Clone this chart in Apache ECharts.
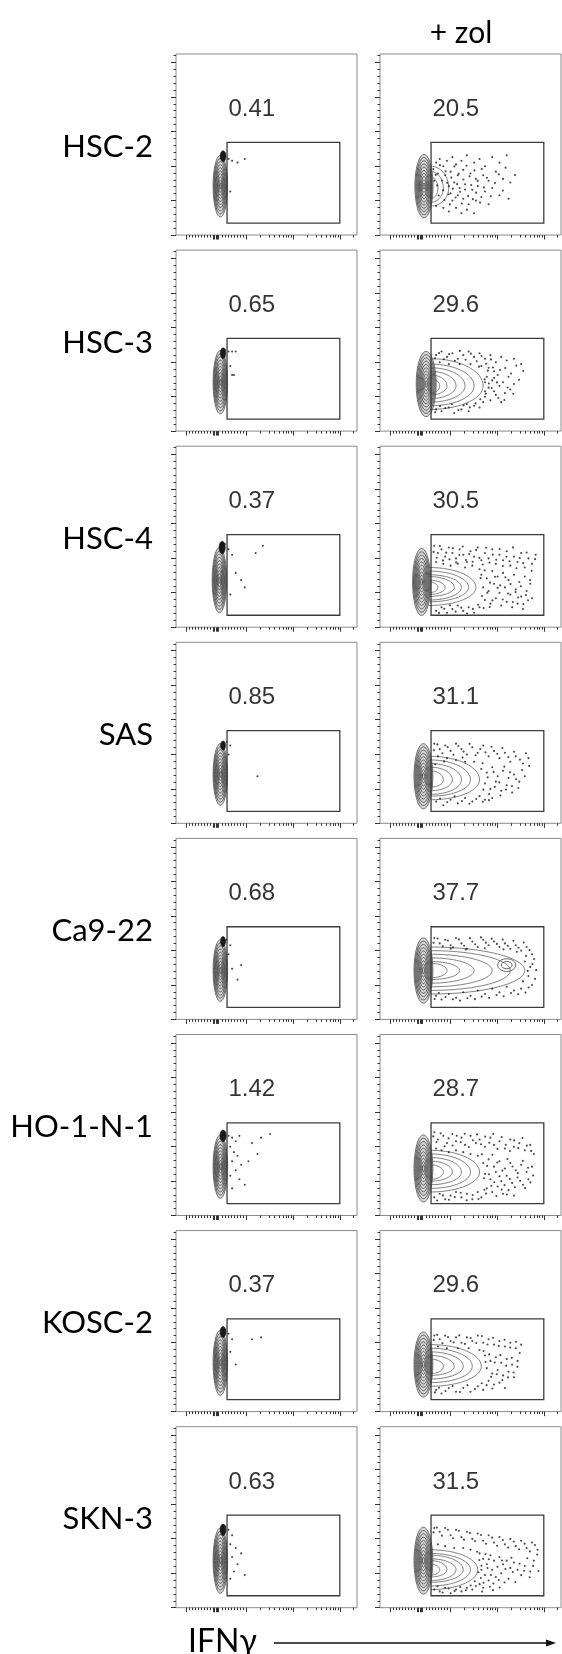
<!DOCTYPE html>
<html>
<head>
<meta charset="utf-8">
<script src="https://cdn.jsdelivr.net/npm/echarts@6/dist/echarts.min.js"></script>
<style>
  html, body { margin: 0; padding: 0; background: #fff; }
  #chart { width: 562px; height: 1654px; }
</style>
</head>
<body>
<div id="chart"></div>
<script>
// rows of the figure, top to bottom
const cellLines = ['HSC-2', 'HSC-3', 'HSC-4', 'SAS', 'Ca9-22', 'HO-1-N-1', 'KOSC-2', 'SKN-3']
const pctControl = ['0.41', '0.65', '0.37', '0.85', '0.68', '1.42', '0.37', '0.63']
const pctZol = ['20.5', '29.6', '30.5', '31.1', '37.7', '28.7', '29.6', '31.5']

// panel units: x = IFNγ display scale 0..100, y = 0..100 of the 262144 linear scale
const xMajorTicks = [5.6, 20.6, 21.3, 22, 22.7, 23.4, 39, 65, 90.5]
const xMinorTicks = [7.2, 8.9, 10.5, 12.2, 13.8, 15.4, 17.1, 18.7, 25.4, 27.1, 28.8, 30.5, 32.2, 33.9, 35.6, 37.3,
  46.7, 51.3, 54.5, 57, 59, 60.7, 62.2, 63.5, 72.7, 77.3, 80.5, 83, 85, 86.7, 88.2, 89.5, 98.2]
const yMajorTicks = [0, 19.07, 38.15, 57.22, 76.29, 95.37]
const yMinorTicks = [3.81, 7.63, 11.44, 15.26, 22.89, 26.7, 30.52, 34.33, 41.96, 45.78, 49.59, 53.41,
  61.04, 64.85, 68.66, 72.48, 80.11, 83.92, 87.74, 91.55, 99.18]

// IFNγ+ gate: x0, y0, x1, y1
const gate = [28.2, 6.6, 90.5, 51.2]
const labelPos = [29, 69.5]

// main population: cx, cy, rx, ry (outer contour)
const blobControl = [[24.5, 27, 4, 17], [24.5, 27, 4, 17.5], [24, 26, 4, 18], [24.5, 27, 4, 17],
  [24.5, 27, 4, 17], [24.5, 27, 4, 17.5], [24.5, 27, 4, 18], [24.5, 26, 4, 18]]
const blobZol = [[24.3, 27, 5, 17.5], [25.5, 26, 5.5, 18], [23, 25, 5, 18.5], [24, 26, 5.2, 18],
  [24, 27, 5.2, 18], [24, 26, 5.2, 18.5], [24, 26, 5.2, 18], [24, 26, 5.2, 18.5]]
const contourLevels = [1, 0.9, 0.8, 0.7, 0.6, 0.5, 0.4, 0.3, 0.2, 0.1]
// dense clump on top of the control populations: cx, cy, rx, ry
const clumpControl = [[26, 43.5, 1.6, 3], [26, 43, 1.5, 3], [25.5, 44, 1.7, 3.5], [26, 43, 1.4, 2.5],
  [26, 43, 1.4, 2.8], [26, 44, 1.7, 3.2], [26, 44, 1.6, 3], [26, 43, 1.6, 3.2]]

// IFNγ+ lobes of the zol panels: origin x, centre y, then [reach x, up, down] per contour
const lobeOrigin = [[28, 26], [28, 25], [27, 22], [28, 24], [28, 27], [28, 24], [28, 25], [28, 21]]
const lobesHSC2 = [[38, 12, 10], [35, 9, 8], [32, 6, 6]]
const lobesHSC3 = [[57, 15, 13], [52, 12, 11], [47, 10, 9], [42, 8, 7], [37, 6, 5], [33, 4, 4]]
const lobesHSC4 = [[53, 11, 10], [49, 9, 8], [45, 7, 7], [41, 6, 5], [36, 4, 4], [32, 3, 3]]
const lobesSAS = [[55, 13, 11], [50, 11, 9], [45, 9, 8], [40, 7, 6], [35, 5, 4]]
const lobesCa922 = [[80, 13, 13], [72, 11, 11], [62, 9, 9], [52, 7, 7], [44, 5, 5], [37, 4, 4]]
const lobesHO1N1 = [[55, 12, 11], [50, 10, 9], [45, 8, 7], [40, 6, 5], [35, 4, 4]]
const lobesKOSC2 = [[56, 12, 11], [51, 10, 9], [46, 8, 7], [41, 6, 5], [35, 4, 4]]
const lobesSKN3 = [[54, 11, 11], [50, 9, 9], [46, 8, 7], [42, 6, 6], [37, 5, 4], [33, 3, 3]]
const islandCa922 = [[70, 30, 5, 3.5], [70, 30, 3, 2]]

// outlier events outside the contours
const dotsCtlHSC2 = [[27, 44], [29, 42], [31, 41], [34, 40], [38, 42], [30, 24]]
const dotsCtlHSC3 = [[27, 45], [29, 44], [31, 44], [33, 44], [30, 36], [31, 31], [32, 31]]
const dotsCtlHSC4 = [[27, 46], [29, 43], [31, 40], [33, 30], [36, 26], [38, 22], [44, 41], [48, 45], [30, 18]]
const dotsCtlSAS = [[28, 45], [30, 43], [29, 38], [45, 26]]
const dotsCtlCa922 = [[28, 44], [30, 41], [29, 36], [31, 28], [34, 22], [36, 30]]
const dotsCtlHO1N1 = [[27, 46], [29, 44], [31, 43], [33, 41], [35, 44], [30, 38], [32, 35], [34, 33], [31, 30],
  [36, 28], [33, 25], [30, 22], [35, 20], [38, 17], [31, 15], [42, 40], [47, 43], [52, 45], [40, 30], [45, 34]]
const dotsCtlKOSC2 = [[27, 45], [29, 43], [31, 40], [30, 33], [42, 40], [47, 41], [33, 26]]
const dotsCtlSKN3 = [[27, 45], [29, 43], [31, 40], [30, 35], [33, 33], [31, 28], [36, 30], [34, 24], [32, 20],
  [38, 18], [30, 16]]

const dotsZolHSC2 = [[31, 40], [33, 42], [35, 38], [37, 41], [40, 43], [42, 39], [45, 41], [48, 44], [52, 40],
  [55, 42], [58, 38], [62, 43], [66, 40], [70, 44], [32, 34], [36, 33], [39, 35], [43, 33], [46, 36], [50, 34],
  [53, 31], [57, 33], [60, 30], [64, 35], [68, 31], [72, 29], [38, 27], [41, 29], [44, 26], [47, 28], [51, 25],
  [54, 27], [58, 24], [62, 26], [66, 22], [71, 20], [40, 19], [43, 22], [46, 20], [49, 17], [53, 19], [56, 21],
  [60, 17], [31, 16], [35, 15], [38, 13], [42, 15], [45, 12], [48, 14], [52, 12], [30, 30], [39, 23],
  [29.5, 36.5], [30.8, 33.2], [31.6, 27.4], [32.4, 21.8], [33.1, 38.6], [34.2, 30.1], [34.9, 24.7], [35.6, 19.3],
  [36.3, 35.2], [37.1, 28.8], [37.9, 22.5], [38.6, 16.9], [39.4, 31.7], [40.2, 25.6], [41.1, 37.9], [41.8, 20.7],
  [42.6, 28.1], [43.5, 33.8], [44.3, 23.9], [45.2, 17.4], [46.1, 30.7], [47, 25.1], [47.8, 38.3], [48.7, 21.6],
  [49.5, 32.4], [50.4, 27.6], [51.3, 19.8], [52.2, 35.7], [53.1, 23.4], [54, 29.9], [55.3, 17.9], [56.2, 36.4],
  [57.4, 26.3], [59.1, 31.6], [61.2, 21.4], [63.5, 28.7], [65.7, 33.5], [67.9, 24.6], [69.4, 37.2], [74.6, 33.1]]
const dotsZolHSC3 = [[31, 42], [34, 44], [37, 41], [40, 43], [43, 40], [46, 42], [49, 44], [52, 41], [55, 43],
  [58, 40], [61, 42], [64, 38], [67, 41], [70, 39], [74, 40], [78, 37], [33, 38], [38, 37], [44, 37], [50, 37],
  [56, 36], [60, 35], [63, 33], [59, 30], [62, 28], [65, 31], [68, 27], [71, 30], [74, 26], [60, 24], [63, 22],
  [66, 25], [69, 21], [72, 23], [58, 19], [61, 17], [64, 20], [67, 16], [31, 12], [34, 11], [38, 13], [41, 10],
  [45, 12], [49, 11], [52, 14], [55, 13], [57, 16], [48, 15], [58, 27], [58, 22],
  [30.4, 40.2], [32.6, 43.1], [35.3, 39.7], [38.2, 42.6], [41.4, 38.9], [44.1, 44.3], [47.3, 39.4], [50.2, 42.8],
  [53.4, 38.6], [56.1, 41.5], [58.7, 37.2], [61.3, 39.6], [59.6, 33.4], [62.4, 35.1], [57.8, 28.6], [60.2, 26.3],
  [63.1, 29.4], [58.4, 20.7], [61.7, 23.8], [64.6, 26.9], [66.3, 33.7], [69.2, 34.9], [72.4, 31.8], [75.3, 36.2],
  [70.5, 24.1], [73.6, 20.6], [55.4, 17.6], [52.8, 15.3], [49.6, 13.1], [46.2, 14.2], [43.3, 11.6], [39.7, 14.8],
  [36.1, 12.7], [33.2, 13.9], [30.5, 10.4], [65.4, 18.3], [68.7, 17.2], [76.8, 28.4], [79.1, 33.2], [54.7, 35.6]]
const dotsZolHSC4 = [[30, 45], [32, 41], [34, 43], [36, 39], [38, 44], [40, 41], [42, 38], [44, 43], [46, 40],
  [48, 36], [50, 42], [52, 39], [54, 44], [56, 37], [58, 41], [60, 38], [62, 43], [64, 35], [66, 40], [68, 37],
  [70, 42], [72, 34], [74, 39], [76, 36], [78, 41], [80, 33], [82, 38], [84, 35], [86, 40], [31, 36], [35, 35],
  [39, 34], [43, 35], [47, 33], [51, 34], [55, 32], [56, 29], [59, 27], [62, 31], [65, 28], [68, 30], [71, 26],
  [74, 29], [77, 25], [80, 28], [83, 24], [57, 22], [60, 20], [63, 24], [66, 19], [69, 22], [72, 18], [75, 21],
  [78, 17], [81, 20], [84, 16], [58, 15], [61, 13], [64, 16], [67, 12], [70, 14], [73, 11], [76, 13], [79, 10],
  [31, 9], [34, 11], [37, 8], [40, 10], [43, 12], [46, 9], [49, 11], [52, 8], [55, 11],
  [29.6, 41.6], [31.3, 38.4], [33.1, 44.8], [34.8, 36.9], [36.6, 41.2], [38.4, 37.5], [40.3, 43.6], [42.1, 35.8],
  [43.8, 39.9], [45.7, 44.6], [47.5, 37.1], [49.3, 40.4], [51.2, 36.2], [53.1, 42.7], [54.9, 38.3], [56.8, 34.6],
  [58.6, 43.9], [60.5, 35.7], [62.3, 40.1], [64.2, 37.3], [66.1, 43.2], [67.9, 33.8], [69.8, 38.9], [71.6, 36.4],
  [73.5, 44.1], [75.4, 32.6], [77.2, 38.2], [79.1, 35.4], [81, 41.3], [83.8, 31.2], [85.7, 37.6], [55.6, 27.1],
  [57.9, 31.4], [60.8, 24.6], [63.6, 27.9], [66.4, 23.1], [69.3, 27.6], [72.1, 23.8], [74.9, 19.4], [77.8, 22.6],
  [80.6, 17.8], [82.9, 26.1], [56.4, 17.2], [59.3, 19.1], [62.1, 14.8], [65, 21.7], [67.8, 15.3], [70.7, 18.6],
  [73.4, 13.9], [76.3, 16.4], [79.2, 12.8], [81.8, 14.9], [32.6, 7.9], [35.5, 10.2], [38.7, 12.1], [41.8, 8.6],
  [44.9, 10.8], [48.1, 7.6], [51.3, 10.1], [54.2, 12.4], [57.3, 10.6], [60.6, 11.2]]
const dotsZolSAS = [[30, 44], [33, 41], [36, 43], [39, 40], [42, 44], [45, 41], [48, 38], [51, 42], [54, 39],
  [57, 43], [60, 37], [63, 40], [66, 36], [69, 39], [72, 34], [75, 37], [79, 33], [82, 36], [32, 37], [37, 36],
  [42, 35], [47, 34], [52, 34], [56, 30], [59, 28], [62, 31], [65, 26], [68, 29], [71, 25], [74, 27], [77, 23],
  [80, 26], [58, 22], [61, 19], [64, 23], [67, 18], [70, 21], [73, 17], [31, 12], [35, 10], [39, 13], [43, 11],
  [47, 14], [51, 12], [55, 15], [58, 13], [62, 14],
  [29.8, 40.4], [31.7, 43.6], [34.5, 38.7], [37.4, 42.1], [40.6, 37.9], [43.3, 42.7], [46.2, 39.6], [49.5, 43.9],
  [52.8, 37.6], [55.4, 41.1], [58.3, 39.2], [61.6, 42.3], [64.8, 38.4], [67.6, 41.6], [70.9, 36.6], [74.1, 39.5],
  [77.3, 35.2], [80.6, 38.7], [56.7, 33.2], [59.5, 25.4], [62.8, 28.4], [65.9, 22.6], [68.7, 31.3], [71.8, 28.2],
  [75.2, 24.3], [78.5, 29.4], [57.1, 18.6], [60.3, 16.2], [63.4, 20.1], [66.5, 15.4], [69.6, 18.7], [72.9, 20.6],
  [76.4, 19.5], [33.2, 13.7], [37.1, 11.6], [41.2, 14.9], [45.3, 12.3], [49.4, 10.8], [53.2, 13.4], [56.8, 11.9],
  [60.2, 12.8], [30.5, 32.6], [35.4, 34.2], [45.6, 36.3], [82.4, 31.7]]
const dotsZolCa922 = [[30, 45], [33, 42], [36, 44], [39, 41], [42, 45], [45, 42], [48, 39], [51, 43], [54, 40],
  [57, 44], [60, 41], [63, 43], [66, 40], [69, 42], [72, 39], [75, 41], [78, 38], [81, 40], [84, 36], [80, 32],
  [83, 29], [82, 24], [79, 21], [84, 19], [31, 13], [34, 11], [38, 14], [42, 12], [46, 15], [50, 13], [54, 16],
  [58, 14], [62, 17], [66, 15], [70, 18], [74, 16], [78, 17],
  [29.6, 42.3], [31.8, 44.7], [34.7, 40.4], [37.5, 43.6], [40.4, 39.8], [43.6, 44.2], [46.5, 40.7], [49.7, 44.9],
  [52.6, 41.5], [55.8, 45.3], [58.5, 42.4], [61.7, 44.6], [64.6, 41.7], [67.8, 44.1], [70.6, 40.6], [73.7, 43.4],
  [76.5, 39.6], [79.4, 42.5], [82.6, 38.3], [85.1, 33.4], [84.2, 30.6], [86.3, 27.2], [81.6, 26.8], [85.7, 22.4],
  [82.1, 17.6], [80.4, 14.8], [76.3, 13.9], [72.4, 14.6], [68.3, 12.8], [64.4, 13.5], [60.3, 11.9], [56.2, 12.6],
  [52.4, 11.2], [48.3, 11.7], [44.2, 10.4], [40.3, 11.1], [36.2, 12.4], [32.5, 14.6], [30.2, 11.3], [39.1, 39.1],
  [47.4, 38.6], [57.9, 39.3], [68.2, 38.7], [75.6, 37.4], [80.7, 35.1]]
const dotsZolHO1N1 = [[30, 46], [32, 42], [35, 44], [37, 40], [40, 45], [42, 41], [45, 43], [47, 39], [50, 44],
  [53, 40], [55, 42], [58, 38], [61, 43], [63, 39], [66, 41], [69, 37], [72, 42], [74, 38], [77, 40], [80, 36],
  [83, 39], [85, 34], [31, 37], [34, 36], [38, 35], [42, 36], [46, 35], [50, 34], [54, 33], [57, 29], [60, 31],
  [63, 27], [66, 30], [69, 26], [72, 29], [75, 25], [78, 28], [81, 24], [84, 27], [58, 23], [61, 20], [64, 24],
  [67, 19], [70, 22], [73, 18], [76, 21], [79, 17], [82, 20], [59, 15], [62, 13], [65, 16], [68, 12], [71, 14],
  [74, 11], [30, 10], [33, 12], [36, 9], [39, 11], [42, 13], [45, 10], [48, 12], [51, 9], [54, 13], [56, 10],
  [29.4, 43.7], [31.2, 40.6], [33.5, 45.4], [35.7, 38.2], [37.9, 42.6], [40.1, 38.7], [42.4, 44.1], [44.6, 40.5],
  [46.8, 45.2], [49.1, 37.8], [51.3, 41.6], [53.6, 44.8], [55.8, 39.4], [58.1, 43.6], [60.4, 40.2], [62.6, 45.1],
  [64.9, 36.8], [67.2, 43.4], [69.5, 39.1], [71.8, 35.6], [74.1, 41.5], [76.4, 37.2], [78.7, 42.8], [81.1, 38.6],
  [83.5, 35.7], [56.3, 33.8], [59.2, 27.4], [62.1, 33.6], [64.8, 29.3], [67.6, 24.8], [70.4, 31.2], [73.2, 27.1],
  [76.1, 23.4], [78.9, 30.2], [81.8, 26.4], [84.6, 22.1], [57.4, 20.6], [60.2, 22.8], [63.1, 18.4], [66, 21.6],
  [68.8, 16.8], [71.7, 20.1], [74.5, 15.6], [77.4, 19.2], [80.2, 15.1], [83.1, 18.3], [58.6, 12.1], [61.5, 16.4],
  [64.3, 10.8], [67.2, 14.3], [70.1, 11.6], [31.6, 8.3], [34.8, 11.1], [38.1, 8.7], [41.3, 10.2], [44.6, 12.6],
  [47.9, 8.4], [51.2, 11.3], [54.4, 9.1], [57.7, 14.2]]
const dotsZolKOSC2 = [[30, 42], [33, 40], [36, 42], [39, 39], [42, 41], [45, 38], [48, 41], [51, 39], [54, 42],
  [57, 38], [60, 40], [63, 37], [66, 39], [69, 36], [72, 38], [75, 35], [78, 37], [32, 36], [37, 35], [43, 35],
  [49, 35], [55, 34], [58, 31], [61, 28], [64, 30], [67, 27], [70, 29], [73, 26], [76, 28], [59, 24], [62, 21],
  [65, 23], [68, 20], [71, 22], [74, 19], [60, 17], [63, 15], [66, 16], [69, 13], [31, 12], [34, 10], [38, 13],
  [42, 11], [46, 13], [50, 11], [54, 14], [57, 12],
  [29.7, 39.6], [31.6, 42.4], [34.5, 37.8], [37.6, 41.2], [40.7, 38.3], [43.8, 42.1], [46.9, 37.4], [50.1, 40.6],
  [53.2, 37.9], [56.3, 41.7], [59.4, 37.1], [62.5, 40.8], [65.6, 36.3], [68.8, 39.7], [71.9, 35.4], [75.1, 38.6],
  [57.2, 33.5], [60.3, 31.6], [63.4, 27.1], [66.5, 31.2], [69.7, 25.4], [72.8, 29.7], [75.9, 24.8], [58.3, 27.4],
  [61.4, 19.2], [64.5, 20.6], [67.6, 17.4], [70.7, 18.9], [73.8, 21.6], [58.9, 14.6], [62.1, 12.8], [56.2, 15.7],
  [52.4, 12.4], [48.3, 14.6], [44.2, 10.8], [40.1, 14.1], [36.2, 11.4], [32.6, 13.2], [30.4, 10.6], [77.2, 32.4]]
const dotsZolSKN3 = [[30, 44], [33, 42], [36, 44], [39, 40], [42, 43], [45, 39], [48, 42], [51, 38], [54, 41],
  [57, 37], [60, 40], [63, 36], [66, 39], [69, 35], [72, 38], [75, 34], [78, 37], [81, 33], [84, 36], [87, 32],
  [32, 35], [36, 34], [41, 33], [46, 33], [50, 32], [55, 30], [57, 27], [59, 24], [56, 21], [58, 18], [60, 15],
  [61, 29], [63, 26], [62, 21], [64, 17], [66, 28], [68, 24], [67, 19], [70, 26], [72, 22], [71, 16], [74, 25],
  [76, 21], [78, 18], [80, 23], [83, 20], [85, 26], [55, 13], [57, 11], [30, 10], [33, 9], [36, 11], [39, 8],
  [42, 10], [45, 9], [48, 11], [51, 10], [53, 12],
  [29.6, 41.6], [31.4, 44.3], [34.2, 39.8], [37.5, 43.1], [40.3, 38.4], [43.6, 42.5], [46.4, 37.6], [49.7, 41.3],
  [52.5, 36.8], [55.8, 40.2], [58.6, 35.3], [61.9, 38.7], [64.7, 34.2], [67.9, 37.4], [70.8, 33.2], [73.9, 36.6],
  [76.8, 32.3], [79.9, 35.4], [82.8, 31.1], [85.6, 34.6], [53.6, 30.9], [54.9, 26.3], [56.1, 23.2], [54.4, 19.6],
  [55.7, 16.4], [57.2, 13.8], [58.3, 29.6], [60.1, 26.8], [59.4, 21.9], [61.3, 18.1], [62.6, 13.4], [60.7, 11.6],
  [64.9, 22.6], [65.6, 15.3], [67.4, 26.1], [69.3, 21.4], [68.8, 13.9], [72.6, 27.6], [73.4, 19.7], [74.8, 14.2],
  [77.1, 24.3], [79.6, 20.4], [81.4, 27.3], [82.7, 16.8], [84.6, 23.1], [86.8, 29.4], [87.5, 20.3], [52.3, 14.6],
  [50.1, 12.3], [47.4, 9.6], [44.3, 11.4], [41.2, 9.2], [37.9, 10.6], [34.6, 8.4], [31.7, 11.8], [56.4, 8.9],
  [62.4, 9.7], [66.1, 11.2]]

const dotsControl = [dotsCtlHSC2, dotsCtlHSC3, dotsCtlHSC4, dotsCtlSAS, dotsCtlCa922, dotsCtlHO1N1, dotsCtlKOSC2, dotsCtlSKN3]
const dotsZol = [dotsZolHSC2, dotsZolHSC3, dotsZolHSC4, dotsZolSAS, dotsZolCa922, dotsZolHO1N1, dotsZolKOSC2, dotsZolSKN3]
const lobesZol = [lobesHSC2, lobesHSC3, lobesHSC4, lobesSAS, lobesCa922, lobesHO1N1, lobesKOSC2, lobesSKN3]

// layout
const rowTop = 54
const rowStep = 196.1
const colLeft = [176, 380]
const frameSize = 181
const numFont = '"Liberation Sans", Arial, sans-serif'
const textFont = 'Lato, "Open Sans", sans-serif'

function renderEllipse(params, api) {
  const c = api.coord([api.value(0), api.value(1)])
  const s = api.size([api.value(2), api.value(3)])
  const kind = api.value(4)
  let style = { fill: 'none', stroke: '#3f3f3f', lineWidth: 0.8 }
  if (kind === 1) style = { fill: '#1a1a1a', stroke: '#1a1a1a', lineWidth: 0.6 }
  if (kind === 2) style = { fill: 'rgba(110,110,110,0.28)', stroke: '#4a4a4a', lineWidth: 0.8 }
  return {
    type: 'ellipse',
    shape: { cx: c[0], cy: c[1], rx: s[0], ry: s[1] },
    style
  }
}

// half contour opening to the left, bulging into the gate
function renderLobe(params, api) {
  const x0 = api.value(0), cy = api.value(1), reach = api.value(2)
  const up = api.value(3), down = api.value(4)
  const pts = []
  for (let a = -90; a <= 90; a += 6) {
    const t = a * Math.PI / 180
    const ry = a > 0 ? up : down
    pts.push(api.coord([x0 + (reach - x0) * Math.cos(t), cy + ry * Math.sin(t)]))
  }
  return {
    type: 'polyline',
    shape: { points: pts },
    style: { fill: 'none', stroke: '#5a5a5a', lineWidth: 0.75 }
  }
}

function renderGate(params, api) {
  const a = api.coord([api.value(0), api.value(3)])
  const b = api.coord([api.value(2), api.value(1)])
  return {
    type: 'rect',
    shape: { x: a[0], y: a[1], width: b[0] - a[0], height: b[1] - a[1] },
    style: { fill: 'none', stroke: '#3c3c3c', lineWidth: 1.3 }
  }
}

function blobData(blob, clump) {
  const out = contourLevels.map((f, i) => [blob[0], blob[1], blob[2] * f, blob[3] * f, i === 0 ? 2 : 0])
  if (clump) out.push([clump[0], clump[1], clump[2], clump[3], 1])
  return out
}

const grid = []
const xAxis = []
const yAxis = []
const series = []

function tickAxis(g, dir, values, len) {
  return {
    gridIndex: g,
    type: 'value',
    min: 0,
    max: 100,
    position: dir === 'x' ? 'bottom' : 'left',
    offset: 0,
    axisLine: { show: false },
    splitLine: { show: false },
    axisLabel: { show: false },
    axisTick: {
      show: true,
      inside: false,
      length: len,
      customValues: values,
      lineStyle: { color: '#333', width: 1 }
    }
  }
}

cellLines.forEach((name, r) => {
  for (let c = 0; c < 2; c++) {
    const g = grid.length
    grid.push({
      left: colLeft[c],
      top: rowTop + r * rowStep,
      width: frameSize,
      height: frameSize,
      show: true,
      borderColor: '#8a8a8a',
      borderWidth: 1
    })
    xAxis.push(tickAxis(g, 'x', xMajorTicks, 4.5))
    xAxis.push(tickAxis(g, 'x', xMinorTicks, 2.5))
    yAxis.push(tickAxis(g, 'y', yMajorTicks, 5))
    yAxis.push(tickAxis(g, 'y', yMinorTicks, 2.5))
    const ax = { xAxisIndex: 2 * g, yAxisIndex: 2 * g }
    const isZol = c === 1

    series.push({
      type: 'custom', ...ax, silent: true, z: 2,
      renderItem: renderEllipse,
      data: isZol ? blobData(blobZol[r]) : blobData(blobControl[r], clumpControl[r])
    })
    if (isZol) {
      const o = lobeOrigin[r]
      series.push({
        type: 'custom', ...ax, silent: true, z: 2,
        renderItem: renderLobe,
        data: lobesZol[r].map(l => [o[0], o[1], l[0], l[1], l[2]])
      })
      if (r === 4) {
        series.push({
          type: 'custom', ...ax, silent: true, z: 2,
          renderItem: renderEllipse,
          data: islandCa922.map(e => e.concat([0]))
        })
      }
    }
    series.push({
      type: 'scatter', ...ax, silent: true, z: 3,
      symbol: 'circle', symbolSize: 2.1,
      itemStyle: { color: '#1c1c1c' },
      data: isZol ? dotsZol[r] : dotsControl[r]
    })
    series.push({
      type: 'custom', ...ax, silent: true, z: 4,
      renderItem: renderGate,
      data: [gate]
    })
    series.push({
      type: 'scatter', ...ax, silent: true, z: 5,
      symbolSize: 0,
      data: [[labelPos[0], labelPos[1], isZol ? pctZol[r] : pctControl[r]]],
      label: {
        show: true,
        position: 'right',
        distance: 0,
        formatter: p => p.value[2],
        fontFamily: numFont,
        fontSize: 24,
        color: '#000'
      }
    })
  }
})

const graphic = cellLines.map((name, r) => ({
  type: 'text',
  x: 153,
  y: rowTop + r * rowStep + frameSize / 2 + 2,
  style: {
    text: name,
    align: 'right',
    verticalAlign: 'middle',
    font: '31px ' + textFont,
    fill: '#000'
  }
}))
graphic.push({
  type: 'text', x: 461, y: 33,
  style: { text: '+ zol', align: 'center', verticalAlign: 'middle', font: '30px ' + textFont, fill: '#000' }
})
graphic.push({
  type: 'text', x: 188, y: 1642,
  style: { text: 'IFNγ', align: 'left', verticalAlign: 'middle', font: '32px ' + textFont, fill: '#000' }
})
graphic.push({
  type: 'line',
  shape: { x1: 274, y1: 1643, x2: 548, y2: 1643 },
  style: { stroke: '#111', lineWidth: 1.6 }
})
graphic.push({
  type: 'polygon',
  shape: { points: [[546, 1639.5], [556, 1643], [546, 1646.5]] },
  style: { fill: '#111' }
})

const chart = echarts.init(document.getElementById('chart'))
chart.setOption({
  animation: false,
  backgroundColor: '#fff',
  grid,
  xAxis,
  yAxis,
  series,
  graphic
})
</script>
</body>
</html>
